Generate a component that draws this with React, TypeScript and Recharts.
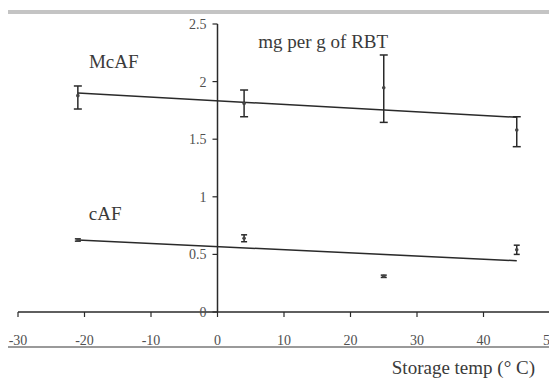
import React from 'react';
import {
  ScatterChart,
  Scatter,
  XAxis,
  YAxis,
  ErrorBar,
  ReferenceLine,
  ReferenceDot,
} from 'recharts';

// ---- data ----
const xTicks = [-30, -20, -10, 0, 10, 20, 30, 40, 50];
const yTicks = [0, 0.5, 1, 1.5, 2, 2.5];
const yTickLabels = ['0', '0.5', '1', '1.5', '2', '2.5'];

const temps = [-21, 4, 25, 45];
const meafMean = [1.878, 1.81, 1.947, 1.58];
const meafErrLow = [0.116, 0.115, 0.301, 0.145];
const meafErrHigh = [0.084, 0.117, 0.284, 0.115];

const cafMean = [0.625, 0.64, 0.31, 0.54];
const cafErrLow = [0.01, 0.03, 0.01, 0.04];
const cafErrHigh = [0.01, 0.03, 0.01, 0.04];

const trendX = [-21, 45];
const meafTrendY = [1.9, 1.69];
const cafTrendY = [0.625, 0.445];

const annotationText = ['McAF', 'cAF', 'mg per g of RBT'];
const annotationX = [-15.6, -16.9, 15.9];
const annotationY = [2.12, 0.8, 2.29];

const xAxisTitle = 'Storage temp (° C)';

// ---- derived tables ----
const meafData = temps.map((t, i) => ({ x: t, y: meafMean[i], err: [meafErrLow[i], meafErrHigh[i]] }));
const cafData = temps.map((t, i) => ({ x: t, y: cafMean[i], err: [cafErrLow[i], cafErrHigh[i]] }));
const meafTrend = trendX.map((t, i) => ({ x: t, y: meafTrendY[i] }));
const cafTrend = trendX.map((t, i) => ({ x: t, y: cafTrendY[i] }));

const FONT = 'Liberation Serif';
const INK = '#2a2a2a';
const TXT = '#505050';

const CSS =
  '.serif-chart, .serif-chart text, .serif-chart tspan, .serif-chart .recharts-text { font-family: "Liberation Serif", "Times New Roman", Tinos !important; }';

const Marker = (props: any) => {
  const { cx, cy } = props;
  if (cx == null || cy == null) return <g />;
  return <circle cx={cx} cy={cy} r={1.8} fill="#444" stroke="none" />;
};

const NoMarker = () => <g />;

const YTickShape = (label: string) => (props: any) => {
  const { cx, cy } = props;
  return (
    <g>
      <line x1={cx - 5} y1={cy} x2={cx} y2={cy} stroke={INK} strokeWidth={1.2} />
      <text x={cx - 11} y={cy + 5} textAnchor="end" fontFamily={FONT} fontSize={14} fill={TXT}>
        {label}
      </text>
    </g>
  );
};

const AnnotationShape = (label: string) => (props: any) => {
  const { cx, cy } = props;
  return (
    <text x={cx} y={cy} textAnchor="middle" fontFamily={FONT} fontSize={19} fill="#3a3a3a">
      {label}
    </text>
  );
};

const XTitle = (props: any) => {
  const vb = props.viewBox || {};
  return (
    <text
      x={(vb.x || 0) + (vb.width || 0) - 15}
      y={(vb.y || 0) + 62}
      textAnchor="end"
      fontFamily={FONT}
      fontSize={19}
      fill="#3a3a3a"
    >
      {xAxisTitle}
    </text>
  );
};

export default function App() {
  return (
    <div
      className="serif-chart"
      style={{
        position: 'relative',
        margin: '-8px 0 0 -8px',
        width: 557,
        height: 381,
        overflow: 'hidden',
        background: '#fff',
      }}
    >
      <style>{CSS}</style>
      <div
        style={{
          position: 'absolute',
          left: 5,
          top: 10,
          width: 600,
          height: 338,
          borderTop: '4px solid #c4c4c4',
          borderLeft: '2px solid #8a8a8a',
          borderBottom: '2px solid #9a9a9a',
          boxSizing: 'border-box',
        }}
      />
      <div style={{ position: 'absolute', left: 0, top: 0 }}>
        <ScatterChart width={557} height={381} margin={{ top: 24, right: 7, bottom: 0, left: 18 }}>
          <XAxis
            type="number"
            dataKey="x"
            domain={[-30, 50]}
            ticks={xTicks}
            allowDataOverflow
            height={69}
            axisLine={{ stroke: INK, strokeWidth: 1.5 }}
            tickLine={{ stroke: INK, strokeWidth: 1.2 }}
            tickSize={5}
            tickMargin={18}
            tick={{ fill: TXT, fontSize: 14, fontFamily: FONT }}
            interval={0}
            label={<XTitle />}
          />
          <YAxis type="number" dataKey="y" domain={[0, 2.5]} hide />
          <ReferenceLine x={0} stroke={INK} strokeWidth={1.5} ifOverflow="visible" />
          {yTicks.map((v, i) => (
            <ReferenceDot
              key={'yt' + i}
              x={0}
              y={v}
              r={0}
              ifOverflow="visible"
              shape={YTickShape(yTickLabels[i])}
            />
          ))}
          {annotationText.map((s, i) => (
            <ReferenceDot
              key={'an' + i}
              x={annotationX[i]}
              y={annotationY[i]}
              r={0}
              ifOverflow="visible"
              shape={AnnotationShape(s)}
            />
          ))}
          <Scatter data={meafTrend} line={{ stroke: INK, strokeWidth: 1.5 }} shape={NoMarker} isAnimationActive={false} />
          <Scatter data={cafTrend} line={{ stroke: INK, strokeWidth: 1.5 }} shape={NoMarker} isAnimationActive={false} />
          <Scatter data={meafData} shape={Marker} isAnimationActive={false}>
            <ErrorBar dataKey="err" direction="y" width={4} stroke={INK} strokeWidth={1.5} isAnimationActive={false} />
          </Scatter>
          <Scatter data={cafData} shape={Marker} isAnimationActive={false}>
            <ErrorBar dataKey="err" direction="y" width={3} stroke={INK} strokeWidth={1.5} isAnimationActive={false} />
          </Scatter>
        </ScatterChart>
      </div>
    </div>
  );
}
